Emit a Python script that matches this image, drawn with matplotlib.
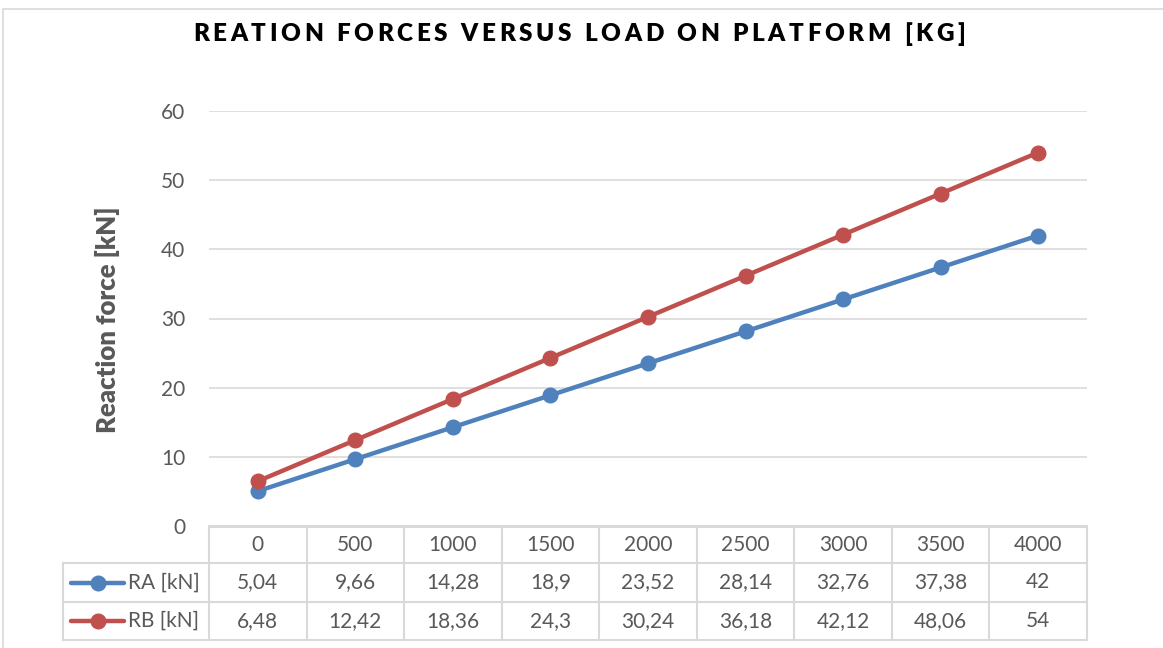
import matplotlib
matplotlib.use("Agg")
import matplotlib.pyplot as plt
from matplotlib.lines import Line2D
from matplotlib.patches import Rectangle

categories = ["0", "500", "1000", "1500", "2000", "2500", "3000", "3500", "4000"]
ra_values = [5.04, 9.66, 14.28, 18.9, 23.52, 28.14, 32.76, 37.38, 42]
rb_values = [6.48, 12.42, 18.36, 24.3, 30.24, 36.18, 42.12, 48.06, 54]
ra_labels = ["5,04", "9,66", "14,28", "18,9", "23,52", "28,14", "32,76", "37,38", "42"]
rb_labels = ["6,48", "12,42", "18,36", "24,3", "30,24", "36,18", "42,12", "48,06", "54"]
series_names = ["RA [kN]", "RB [kN]"]
title = "REATION FORCES VERSUS LOAD ON PLATFORM [KG]"
ylabel = "Reaction force [kN]"
yticks = [0, 10, 20, 30, 40, 50, 60]

W, H = 1163, 648
BLUE = "#4F81BD"
RED = "#C0504D"
GRID = "#D9D9D9"
TXT = "#595959"
FONT = ["Lato", "DejaVu Sans"]
plt.rcParams["font.family"] = FONT
FS = 15

fig = plt.figure(figsize=(W / 100, H / 100), dpi=100)

def fx(px):
    return px / W

def fy(py):
    return 1 - py / H

# chart border
fig.patches.append(Rectangle((fx(3), fy(700)), fx(1200) - fx(3), fy(9) - fy(700),
                             transform=fig.transFigure, fill=False, edgecolor=GRID, lw=1.2))

L, R, T, B = 209, 1087, 111, 526
ax = fig.add_axes([fx(L), fy(B), fx(R) - fx(L), fy(T) - fy(B)])
n = len(categories)
x = list(range(n))
ax.plot(x, ra_values, color=BLUE, lw=3.2, marker="o", ms=10.5, zorder=3, solid_capstyle="round")
ax.plot(x, rb_values, color=RED, lw=3.2, marker="o", ms=10.5, zorder=3, solid_capstyle="round")
ax.set_xlim(-0.5, n - 0.5)
ax.set_ylim(0, 60)
ax.set_yticks(yticks)
ax.set_yticklabels([str(v) for v in yticks])
ax.set_xticks([])
ax.yaxis.grid(True, color=GRID, lw=1.2)
ax.set_axisbelow(True)
for s in ["top", "right", "left"]:
    ax.spines[s].set_visible(False)
ax.spines["bottom"].set_color(GRID)
ax.spines["bottom"].set_linewidth(1.2)
ax.tick_params(axis="y", length=0, pad=17, labelsize=FS, labelcolor=TXT)

fig.text(fx(107), fy(320), ylabel, rotation=90, ha="center", va="center",
         fontsize=18.5, fontweight="heavy", color=TXT)

# title with letter spacing (characters placed one by one)
renderer = fig.canvas.get_renderer()
tfs = 17.5
widths = []
for ch in title:
    if ch == " ":
        widths.append(None)
        continue
    t = fig.text(0, 0, ch, fontsize=tfs, fontweight="heavy")
    widths.append(t.get_window_extent(renderer).width)
    t.remove()
space_w = 6.0
tx0, tx1 = 193, 965
glyph_total = sum(w if w is not None else space_w for w in widths)
tracking = (tx1 - tx0 - glyph_total) / (len(title) - 1)
cur = tx0
for ch, w in zip(title, widths):
    if w is None:
        cur += space_w + tracking
        continue
    fig.text(fx(cur), fy(34), ch, ha="left", va="center", fontsize=tfs,
             fontweight="heavy", color="#000000")
    cur += w + tracking

# data table
ty = [527, 563, 602, 640]
tl = 63
colw = (R - L) / n

def hline(y, x0, x1):
    fig.add_artist(Line2D([fx(x0), fx(x1)], [fy(y), fy(y)], transform=fig.transFigure,
                          color=GRID, lw=1.5))

def vline(xp, y0, y1):
    fig.add_artist(Line2D([fx(xp), fx(xp)], [fy(y0), fy(y1)], transform=fig.transFigure,
                          color=GRID, lw=1.5))

hline(ty[0], L, R)
for yv in ty[1:]:
    hline(yv, tl, R)
for i in range(n + 1):
    vline(L + i * colw, ty[0], ty[3])
vline(tl, ty[1], ty[3])

for i, c in enumerate(categories):
    cx = L + (i + 0.5) * colw
    fig.text(fx(cx), fy((ty[0] + ty[1]) / 2), c, ha="center", va="center", fontsize=FS, color=TXT)
    fig.text(fx(cx), fy((ty[1] + ty[2]) / 2), ra_labels[i], ha="center", va="center", fontsize=FS, color=TXT)
    fig.text(fx(cx), fy((ty[2] + ty[3]) / 2), rb_labels[i], ha="center", va="center", fontsize=FS, color=TXT)

for row, (name, col) in enumerate(zip(series_names, [BLUE, RED])):
    cy = (ty[row + 1] + ty[row + 2]) / 2
    fig.add_artist(Line2D([fx(71), fx(124)], [fy(cy), fy(cy)], transform=fig.transFigure,
                          color=col, lw=3.2, solid_capstyle="round"))
    fig.add_artist(Line2D([fx(97.5)], [fy(cy)], transform=fig.transFigure, color=col,
                          marker="o", ms=10.5, lw=0))
    fig.text(fx(128), fy(cy), name, ha="left", va="center", fontsize=FS, color=TXT)

fig.savefig("out.png", dpi=100)
